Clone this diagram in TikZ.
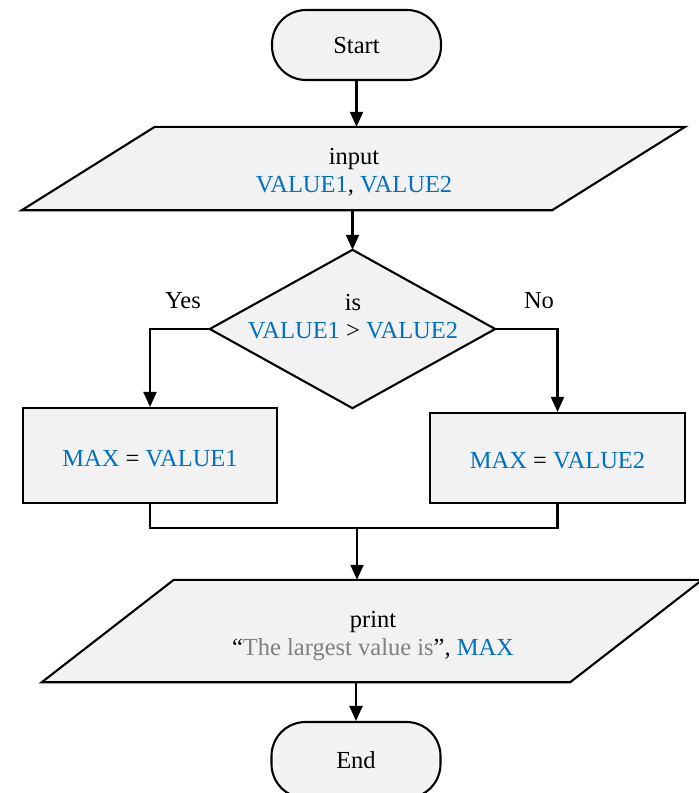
\documentclass[tikz,border=0pt]{standalone}
\usepackage{fontspec}
\setmainfont{Liberation Serif}
\usetikzlibrary{arrows.meta,calc,backgrounds}
\definecolor{boxfill}{HTML}{F2F2F2}
\definecolor{valblue}{HTML}{0070C0}
\definecolor{strgray}{HTML}{808080}
\begin{document}
\begin{tikzpicture}[x=1pt,y=-1pt,
  font=\fontsize{24.5}{28}\selectfont,
  outline/.style={draw=black, line width=2.1pt, fill=boxfill, line join=miter},
  terminal/.style={outline, rounded corners=34pt, minimum width=169pt, minimum height=70pt, inner sep=0pt},
  process/.style={outline, minimum width=254pt, minimum height=95pt, inner sep=0pt},
  holder/.style={inner sep=0pt, align=center},
  flow/.style={line width=2.1pt, -{Triangle[length=15pt,width=13pt]}},
  link/.style={line width=2.1pt}]
\useasboundingbox (0,0) rectangle (699,793);

% terminals
\node[terminal] (start) at (356.5,45) {};
\node (starttxt) at (356.5,46) {Start};
\node[terminal, minimum height=76pt] (finish) at (356,760) {};
\node (endtxt) at (356,760) {End};

% input / output boxes (parallelograms drawn behind their text)
\node[holder, minimum width=530pt, minimum height=83pt] (input) at (353.5,168.5) {};
\node[holder] (inputtxt) at (354,172)
  {input\\\textcolor{valblue}{VALUE1}, \textcolor{valblue}{VALUE2}};
\node[holder, minimum width=528pt, minimum height=102pt] (print) at (371.75,631) {};
\node[holder] (printtxt) at (373,636)
  {print\\“\textcolor{strgray}{The largest value is}”, \textcolor{valblue}{MAX}};

% decision
\node[holder, minimum width=285pt, minimum height=158pt] (test) at (352.5,329) {};
\node[holder] (testlbl) at (353,317)
  {is\\\textcolor{valblue}{VALUE1} > \textcolor{valblue}{VALUE2}};

\begin{scope}[on background layer]
  \draw[outline] ($(input.north west)+(66.5,0)$) -- ($(input.north east)+(66.5,0)$)
    -- ($(input.south east)+(-66.5,0)$) -- ($(input.south west)+(-66.5,0)$) -- cycle;
  \draw[outline] ($(print.north west)+(66.25,0)$) -- ($(print.north east)+(66.25,0)$)
    -- ($(print.south east)+(-65.75,0)$) -- ($(print.south west)+(-65.75,0)$) -- cycle;
  \draw[outline] (test.north) -- (test.east) -- (test.south) -- (test.west) -- cycle;
\end{scope}

% processes
\node[process] (left) at (150,455.5) {};
\node (lefttxt) at (150,458.5)
  {\textcolor{valblue}{MAX} = \textcolor{valblue}{VALUE1}};
\node[process, minimum width=255pt, minimum height=90pt] (right) at (557.5,458) {};
\node (righttxt) at (557.5,461)
  {\textcolor{valblue}{MAX} = \textcolor{valblue}{VALUE2}};

% branch labels
\node (yes) at (183,301) {Yes};
\node (no) at (539,301) {No};

% connectors
\coordinate (join) at (357,528);
\draw[flow] (start.south) -- (start.south |- input.north);
\draw[flow] (test.north |- input.south) -- (test.north);
\draw[flow] (test.west) -| (left.north);
\draw[flow] (test.east) -| (right.north);
\draw[link] (left.south) |- (join) -| (right.south);
\draw[flow] (join) -- (join |- print.north);
\draw[flow] (finish.north |- print.south) -- (finish.north);
\end{tikzpicture}
\end{document}
